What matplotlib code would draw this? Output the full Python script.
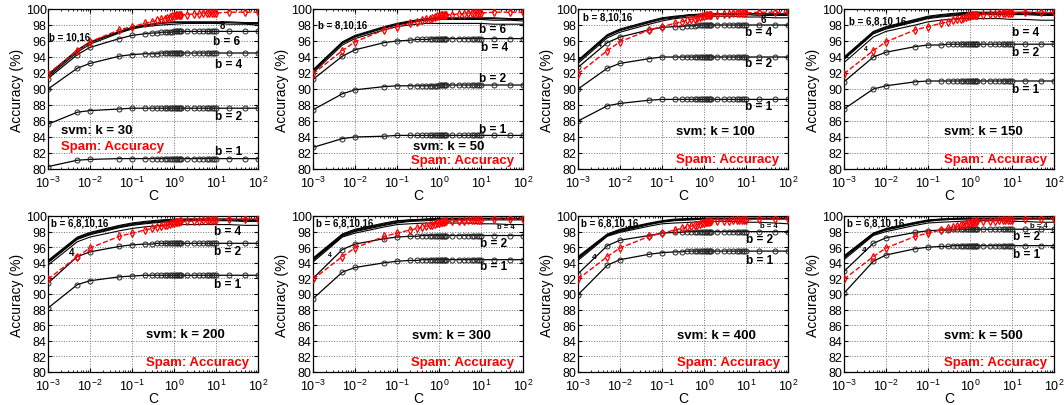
import matplotlib
matplotlib.use("Agg")
import matplotlib.pyplot as plt
from matplotlib.ticker import LogLocator, NullFormatter, MultipleLocator

plt.rcParams["font.family"] = ["Liberation Sans", "DejaVu Sans"]
plt.rcParams["mathtext.default"] = "regular"

# C values where the marked curves are sampled
c_full = [0.001, 0.005, 0.01, 0.05, 0.1,
          0.2, 0.3, 0.4, 0.5, 0.6, 0.7, 0.8, 0.9,
          1.0, 1.1, 1.2, 1.3, 1.4, 1.5,
          2, 3, 4, 5, 6, 7, 8, 9, 10,
          20, 50, 100]
# coarser C grid for the unmarked (high b) curves
c_plain = [0.001, 0.005, 0.01, 0.05, 0.1, 0.2, 0.5, 1, 2, 5, 10, 20, 50, 100]

spam_acc = [91.9, 94.8, 95.9, 97.4, 97.8,
            98.2, 98.4, 98.6, 98.7, 98.8, 98.9, 99.0, 99.1,
            99.1, 99.2, 99.2, 99.2, 99.3, 99.3,
            99.3, 99.4, 99.4, 99.5, 99.5, 99.5, 99.5, 99.5, 99.5,
            99.6, 99.6, 99.6]

# ---- k = 30
k30_b1 = [80.3, 81.1, 81.2, 81.3, 81.3,
          81.3, 81.3, 81.3, 81.3, 81.3, 81.3, 81.3, 81.3,
          81.3, 81.3, 81.3, 81.3, 81.3, 81.3,
          81.3, 81.3, 81.3, 81.3, 81.3, 81.3, 81.3, 81.3, 81.3,
          81.3, 81.3, 81.3]
k30_b2 = [85.6, 87.1, 87.3, 87.5, 87.6,
          87.6, 87.6, 87.6, 87.6, 87.6, 87.6, 87.6, 87.6,
          87.6, 87.6, 87.6, 87.6, 87.6, 87.6,
          87.6, 87.6, 87.6, 87.6, 87.6, 87.6, 87.6, 87.6, 87.6,
          87.6, 87.6, 87.6]
k30_b4 = [90.0, 92.6, 93.2, 94.1, 94.3,
          94.4, 94.4, 94.4, 94.5, 94.5, 94.5, 94.5, 94.5,
          94.5, 94.5, 94.5, 94.5, 94.5, 94.5,
          94.5, 94.5, 94.5, 94.5, 94.5, 94.5, 94.5, 94.5, 94.5,
          94.5, 94.5, 94.5]
k30_b6 = [91.3, 94.3, 95.2, 96.3, 96.7,
          96.9, 97.0, 97.0, 97.1, 97.1, 97.1, 97.1, 97.1,
          97.2, 97.2, 97.2, 97.2, 97.2, 97.2,
          97.2, 97.2, 97.2, 97.2, 97.2, 97.2, 97.2, 97.2, 97.2,
          97.2, 97.2, 97.2]
k30_b8 = [91.5, 94.6, 95.6, 97.0, 97.5, 97.8, 98.0, 98.1, 98.2, 98.2, 98.2, 98.1, 98.1, 98.0]
k30_b10 = [91.7, 94.8, 95.8, 97.1, 97.6, 97.9, 98.2, 98.3, 98.3, 98.3, 98.3, 98.3, 98.2, 98.2]
k30_b16 = [91.8, 94.9, 95.9, 97.2, 97.7, 98.0, 98.3, 98.4, 98.4, 98.4, 98.4, 98.4, 98.3, 98.3]

# ---- k = 50
k50_b1 = [82.7, 83.8, 84.0, 84.1, 84.2,
          84.2, 84.2, 84.2, 84.2, 84.2, 84.2, 84.2, 84.2,
          84.2, 84.2, 84.2, 84.2, 84.2, 84.2,
          84.2, 84.2, 84.2, 84.2, 84.2, 84.2, 84.2, 84.2, 84.2,
          84.2, 84.2, 84.2]
k50_b2 = [87.4, 89.4, 89.9, 90.3, 90.4,
          90.4, 90.4, 90.4, 90.4, 90.4, 90.4, 90.4, 90.4,
          90.5, 90.5, 90.5, 90.5, 90.5, 90.5,
          90.5, 90.5, 90.5, 90.5, 90.5, 90.5, 90.5, 90.5, 90.5,
          90.5, 90.5, 90.5]
k50_b4 = [91.2, 94.1, 94.9, 95.8, 96.0,
          96.1, 96.2, 96.2, 96.2, 96.2, 96.3, 96.3, 96.3,
          96.3, 96.3, 96.3, 96.3, 96.3, 96.3,
          96.3, 96.3, 96.3, 96.3, 96.3, 96.3, 96.3, 96.3, 96.3,
          96.3, 96.3, 96.3]
k50_b6 = [92.0, 95.5, 96.3, 97.4, 97.8, 98.0, 98.2, 98.2, 98.2, 98.2, 98.2, 98.1, 98.1, 98.1]
k50_b8 = [92.2, 95.7, 96.5, 97.6, 98.0, 98.3, 98.6, 98.7, 98.7, 98.7, 98.7, 98.6, 98.6, 98.5]
k50_b10 = [92.3, 95.8, 96.6, 97.7, 98.1, 98.4, 98.7, 98.8, 98.8, 98.8, 98.8, 98.8, 98.7, 98.7]
k50_b16 = [92.4, 95.9, 96.7, 97.8, 98.2, 98.5, 98.8, 98.9, 98.9, 98.9, 98.9, 98.9, 98.8, 98.8]

# ---- k = 100
k100_b1 = [86.0, 87.9, 88.2, 88.6, 88.7,
           88.7, 88.7, 88.7, 88.7, 88.7, 88.7, 88.7, 88.7,
           88.7, 88.7, 88.7, 88.7, 88.7, 88.7,
           88.7, 88.7, 88.7, 88.7, 88.7, 88.7, 88.7, 88.7, 88.7,
           88.7, 88.7, 88.7]
k100_b2 = [90.0, 92.6, 93.2, 93.8, 94.0,
           94.0, 94.0, 94.0, 94.0, 94.0, 94.0, 94.0, 94.0,
           94.0, 94.0, 94.0, 94.0, 94.0, 94.0,
           94.0, 94.0, 94.0, 94.0, 94.0, 94.0, 94.0, 94.0, 94.0,
           94.0, 94.0, 94.0]
k100_b4 = [92.7, 95.8, 96.5, 97.4, 97.7,
           97.8, 97.8, 97.9, 97.9, 97.9, 98.0, 98.0, 98.0,
           98.0, 98.0, 98.0, 98.0, 98.0, 98.0,
           98.0, 98.0, 98.0, 98.0, 98.0, 98.0, 98.0, 98.0, 98.0,
           98.0, 98.0, 98.0]
k100_b6 = [93.2, 96.4, 97.1, 98.1, 98.5, 98.8, 99.0, 99.1, 99.1, 99.1, 99.0, 99.0, 98.9, 98.9]
k100_b8 = [93.4, 96.6, 97.3, 98.3, 98.7, 98.9, 99.2, 99.2, 99.3, 99.3, 99.3, 99.2, 99.2, 99.2]
k100_b10 = [93.5, 96.7, 97.4, 98.4, 98.8, 99.0, 99.3, 99.3, 99.4, 99.4, 99.4, 99.4, 99.3, 99.3]
k100_b16 = [93.6, 96.8, 97.5, 98.5, 98.9, 99.1, 99.3, 99.4, 99.4, 99.4, 99.4, 99.4, 99.4, 99.4]

# ---- k = 150
k150_b1 = [87.5, 90.0, 90.4, 90.9, 91.0,
           91.0, 91.0, 91.0, 91.0, 91.0, 91.0, 91.0, 91.0,
           91.0, 91.0, 91.0, 91.0, 91.0, 91.0,
           91.0, 91.0, 91.0, 91.0, 91.0, 91.0, 91.0, 91.0, 91.0,
           91.0, 91.0, 91.0]
k150_b2 = [90.9, 94.0, 94.6, 95.3, 95.5,
           95.5, 95.6, 95.6, 95.6, 95.6, 95.6, 95.6, 95.6,
           95.6, 95.6, 95.6, 95.6, 95.6, 95.6,
           95.6, 95.6, 95.6, 95.6, 95.6, 95.6, 95.6, 95.6, 95.6,
           95.6, 95.6, 95.6]
k150_b4 = [93.3, 96.5, 97.2, 98.0, 98.4, 98.6, 98.8, 98.8, 98.8, 98.8, 98.7, 98.7, 98.6, 98.6]
k150_b6 = [93.7, 96.9, 97.5, 98.4, 98.8, 99.0, 99.2, 99.3, 99.3, 99.3, 99.3, 99.3, 99.2, 99.2]
k150_b8 = [93.8, 97.0, 97.6, 98.5, 98.9, 99.1, 99.3, 99.4, 99.4, 99.4, 99.4, 99.4, 99.3, 99.3]
k150_b10 = [93.9, 97.1, 97.7, 98.6, 99.0, 99.2, 99.4, 99.5, 99.5, 99.5, 99.5, 99.5, 99.4, 99.4]
k150_b16 = [94.0, 97.2, 97.8, 98.7, 99.1, 99.3, 99.5, 99.6, 99.6, 99.6, 99.6, 99.6, 99.5, 99.5]

# ---- k = 200
k200_b1 = [88.2, 91.2, 91.7, 92.2, 92.3,
           92.4, 92.4, 92.4, 92.4, 92.4, 92.4, 92.4, 92.4,
           92.4, 92.4, 92.4, 92.4, 92.4, 92.4,
           92.4, 92.4, 92.4, 92.4, 92.4, 92.4, 92.4, 92.4, 92.4,
           92.4, 92.4, 92.4]
k200_b2 = [91.4, 94.8, 95.4, 96.1, 96.3,
           96.4, 96.4, 96.5, 96.5, 96.5, 96.5, 96.5, 96.5,
           96.5, 96.5, 96.5, 96.5, 96.5, 96.5,
           96.5, 96.5, 96.5, 96.5, 96.5, 96.5, 96.5, 96.5, 96.5,
           96.5, 96.5, 96.5]
k200_b4 = [93.7, 96.7, 97.3, 98.1, 98.4, 98.6, 98.8, 98.9, 98.9, 98.9, 98.9, 98.9, 98.8, 98.8]
k200_b6 = [94.0, 97.0, 97.6, 98.5, 98.8, 99.0, 99.2, 99.3, 99.4, 99.4, 99.4, 99.4, 99.3, 99.3]
k200_b8 = [94.1, 97.1, 97.7, 98.6, 98.9, 99.1, 99.3, 99.4, 99.5, 99.5, 99.5, 99.5, 99.4, 99.4]
k200_b10 = [94.2, 97.2, 97.8, 98.7, 99.0, 99.2, 99.4, 99.5, 99.6, 99.6, 99.6, 99.6, 99.5, 99.5]
k200_b16 = [94.3, 97.3, 97.9, 98.8, 99.1, 99.3, 99.5, 99.6, 99.6, 99.6, 99.6, 99.6, 99.6, 99.6]

# ---- k = 300
k300_b1 = [89.4, 92.8, 93.4, 94.0, 94.2,
           94.3, 94.3, 94.4, 94.4, 94.4, 94.4, 94.4, 94.4,
           94.4, 94.4, 94.4, 94.4, 94.4, 94.4,
           94.4, 94.4, 94.4, 94.4, 94.4, 94.4, 94.4, 94.4, 94.4,
           94.4, 94.4, 94.4]
k300_b2 = [92.0, 95.7, 96.4, 97.1, 97.3,
           97.4, 97.4, 97.5, 97.5, 97.5, 97.5, 97.5, 97.5,
           97.5, 97.5, 97.5, 97.5, 97.5, 97.5,
           97.5, 97.5, 97.5, 97.5, 97.5, 97.5, 97.5, 97.5, 97.5,
           97.5, 97.5, 97.5]
k300_b4 = [94.1, 97.3, 97.8, 98.6, 98.9, 99.0, 99.1, 99.1, 99.1, 99.1, 99.0, 99.0, 98.9, 98.9]
k300_b6 = [94.3, 97.4, 98.0, 98.8, 99.1, 99.3, 99.4, 99.5, 99.5, 99.5, 99.5, 99.5, 99.5, 99.5]
k300_b8 = [94.4, 97.5, 98.1, 98.9, 99.2, 99.4, 99.5, 99.6, 99.6, 99.6, 99.6, 99.6, 99.6, 99.6]
k300_b10 = [94.5, 97.6, 98.2, 99.0, 99.3, 99.5, 99.6, 99.7, 99.7, 99.7, 99.7, 99.7, 99.7, 99.7]
k300_b16 = [94.6, 97.7, 98.3, 99.1, 99.4, 99.5, 99.6, 99.7, 99.7, 99.7, 99.7, 99.7, 99.7, 99.7]

# ---- k = 400
k400_b1 = [89.9, 93.7, 94.4, 95.1, 95.3,
           95.4, 95.4, 95.5, 95.5, 95.5, 95.5, 95.5, 95.5,
           95.5, 95.5, 95.5, 95.5, 95.5, 95.5,
           95.5, 95.5, 95.5, 95.5, 95.5, 95.5, 95.5, 95.5, 95.5,
           95.5, 95.5, 95.5]
k400_b2 = [92.6, 96.2, 96.9, 97.5, 97.8,
           97.9, 97.9, 98.0, 98.0, 98.0, 98.0, 98.0, 98.0,
           98.0, 98.0, 98.0, 98.0, 98.0, 98.0,
           98.0, 98.0, 98.0, 98.0, 98.0, 98.0, 98.0, 98.0, 98.0,
           98.0, 98.0, 98.0]
k400_b4 = [94.3, 97.4, 97.9, 98.7, 99.0, 99.1, 99.2, 99.3, 99.3, 99.3, 99.2, 99.2, 99.1, 99.0]
k400_b6 = [94.5, 97.5, 98.0, 98.9, 99.2, 99.4, 99.5, 99.6, 99.6, 99.6, 99.6, 99.6, 99.6, 99.6]
k400_b8 = [94.6, 97.6, 98.1, 99.0, 99.3, 99.5, 99.6, 99.7, 99.7, 99.7, 99.7, 99.7, 99.7, 99.7]
k400_b10 = [94.7, 97.6, 98.2, 99.0, 99.3, 99.5, 99.6, 99.7, 99.7, 99.7, 99.7, 99.7, 99.7, 99.7]
k400_b16 = [94.8, 97.7, 98.3, 99.1, 99.4, 99.6, 99.7, 99.7, 99.7, 99.7, 99.7, 99.7, 99.7, 99.7]

# ---- k = 500
k500_b1 = [90.1, 94.2, 95.0, 95.8, 96.0,
           96.1, 96.1, 96.2, 96.2, 96.2, 96.2, 96.2, 96.2,
           96.2, 96.2, 96.2, 96.2, 96.2, 96.2,
           96.2, 96.2, 96.2, 96.2, 96.2, 96.2, 96.2, 96.2, 96.2,
           96.2, 96.2, 96.2]
k500_b2 = [92.9, 96.5, 97.2, 97.9, 98.1,
           98.2, 98.2, 98.3, 98.3, 98.3, 98.3, 98.3, 98.3,
           98.3, 98.3, 98.3, 98.3, 98.3, 98.3,
           98.3, 98.3, 98.3, 98.3, 98.3, 98.3, 98.3, 98.3, 98.3,
           98.3, 98.3, 98.3]
k500_b4 = [94.4, 97.5, 98.0, 98.8, 99.1, 99.2, 99.3, 99.4, 99.4, 99.4, 99.3, 99.3, 99.2, 99.2]
k500_b6 = [94.6, 97.6, 98.2, 99.0, 99.3, 99.5, 99.6, 99.6, 99.6, 99.6, 99.6, 99.6, 99.6, 99.6]
k500_b8 = [94.7, 97.7, 98.3, 99.1, 99.4, 99.5, 99.6, 99.7, 99.7, 99.7, 99.7, 99.7, 99.7, 99.7]
k500_b10 = [94.8, 97.8, 98.3, 99.1, 99.4, 99.6, 99.7, 99.7, 99.7, 99.7, 99.7, 99.7, 99.7, 99.7]
k500_b16 = [94.9, 97.8, 98.4, 99.2, 99.5, 99.6, 99.7, 99.7, 99.7, 99.7, 99.7, 99.7, 99.7, 99.7]

k_values = [30, 50, 100, 150, 200, 300, 400, 500]

# label text entries: (text, x, y, fontsize)
panels = [
    dict(marked=[k30_b1, k30_b2, k30_b4, k30_b6], plain=[k30_b8, k30_b10, k30_b16],
         labels=[("b = 10,16", 1.05e-3, 96.5, 7), ("b = 6", 8.5, 96.0, 8.5),
                 ("b = 4", 9.5, 93.1, 8.5), ("b = 2", 9.5, 86.6, 8.5),
                 ("b = 1", 9.5, 82.3, 8.5), ("8", 12, 98.0, 7)],
         svm=(2e-3, 84.9), spam=(2e-3, 82.9)),
    dict(marked=[k50_b1, k50_b2, k50_b4], plain=[k50_b6, k50_b8, k50_b10, k50_b16],
         labels=[("b = 8,10,16", 1.3e-3, 98.1, 7), ("b = 6", 9.0, 97.5, 8.5),
                 ("b = 4", 10, 95.2, 8.5), ("b = 2", 9.0, 91.4, 8.5),
                 ("b = 1", 9.0, 85.0, 8.5)],
         svm=(0.24, 82.9), spam=(0.21, 81.1)),
    dict(marked=[k100_b1, k100_b2, k100_b4], plain=[k100_b6, k100_b8, k100_b10, k100_b16],
         labels=[("b = 8,10,16", 1.3e-3, 99.0, 7), ("6", 22, 98.7, 7),
                 ("b = 4", 9.5, 97.1, 8.5), ("b = 2", 9.5, 93.2, 8.5),
                 ("b = 1", 9.5, 87.9, 8.5), ("4", 3e-3, 95.6, 5)],
         svm=(0.22, 84.8), spam=(0.22, 81.25)),
    dict(marked=[k150_b1, k150_b2], plain=[k150_b4, k150_b6, k150_b8, k150_b10, k150_b16],
         labels=[("b = 6,8,10,16", 1.3e-3, 98.5, 7), ("b = 4", 10, 97.1, 8.5),
                 ("b = 2", 10, 94.6, 8.5), ("b = 1", 10, 90.0, 8.5),
                 ("4", 3e-3, 95.1, 5)],
         svm=(0.24, 84.7), spam=(0.24, 81.25)),
    dict(marked=[k200_b1, k200_b2], plain=[k200_b4, k200_b6, k200_b8, k200_b10, k200_b16],
         labels=[("b = 6,8,10,16", 1.15e-3, 99.2, 7), ("b = 4", 9.0, 98.1, 8.5),
                 ("b = 2", 9.0, 95.5, 8.5), ("b = 1", 9.0, 91.3, 8.5),
                 ("4", 3.2e-3, 95.4, 7)],
         svm=(0.22, 84.9), spam=(0.22, 81.3)),
    dict(marked=[k300_b1, k300_b2], plain=[k300_b4, k300_b6, k300_b8, k300_b10, k300_b16],
         labels=[("b = 6,8,10,16", 1.15e-3, 99.2, 7), ("b = 4", 24, 98.6, 5.5),
                 ("b = 2", 9.5, 96.5, 8.5), ("b = 1", 9.5, 93.6, 8.5),
                 ("4", 2.3e-3, 95.0, 5)],
         svm=(0.23, 84.7), spam=(0.22, 81.3)),
    dict(marked=[k400_b1, k400_b2], plain=[k400_b4, k400_b6, k400_b8, k400_b10, k400_b16],
         labels=[("b = 6,8,10,16", 1.15e-3, 99.2, 7), ("b = 4", 22, 98.8, 5.5),
                 ("b = 2", 10, 97.0, 8.5), ("b = 1", 10, 94.3, 8.5),
                 ("4", 2.1e-3, 94.8, 6)],
         svm=(0.23, 84.7), spam=(0.23, 81.3)),
    dict(marked=[k500_b1, k500_b2], plain=[k500_b4, k500_b6, k500_b8, k500_b10, k500_b16],
         labels=[("b = 6,8,10,16", 1.15e-3, 99.2, 7), ("b = 4", 27, 98.8, 5.5),
                 ("b = 2", 10.5, 97.4, 8.5), ("b = 1", 10.5, 95.1, 8.5),
                 ("4", 2.6e-3, 95.7, 6)],
         svm=(0.24, 84.7), spam=(0.24, 81.3)),
]

W, H = 1064, 406
fig = plt.figure(figsize=(W / 100, H / 100), dpi=100)

col_left = [48, 313, 578, 844]
row_top = [10, 217]
row_h = [160, 156]
ax_w = 210

for i, (k, p) in enumerate(zip(k_values, panels)):
    r, c = divmod(i, 4)
    ax = fig.add_axes([col_left[c] / W, 1 - (row_top[r] + row_h[r]) / H,
                       ax_w / W, row_h[r] / H])

    for y in p["plain"]:
        ax.plot(c_plain, y, color="k", lw=0.8, zorder=2)
    for y in p["marked"]:
        ax.plot(c_full, y, color="k", lw=0.9, marker="o", ms=3.6,
                mfc="none", mec="0.15", mew=0.7, zorder=3)
    ax.plot(c_full, spam_acc, color="r", lw=1.0, ls="--", marker="d", ms=4.2,
            mfc="none", mec="r", mew=0.9, zorder=4)

    for txt, x, y, fs in p["labels"]:
        ax.text(x, y, txt, fontsize=fs, fontweight="bold", ha="left", va="center",
                color="k", zorder=5)
    ax.text(*p["svm"], f"svm: k = {k}", fontsize=9.5, fontweight="bold",
            ha="left", va="center", color="k")
    ax.text(*p["spam"], "Spam: Accuracy", fontsize=9.5, fontweight="bold",
            ha="left", va="center", color="r")

    ax.set_xscale("log")
    ax.set_xlim(1e-3, 1e2)
    ax.set_ylim(80, 100)
    ax.yaxis.set_major_locator(MultipleLocator(2))
    ax.xaxis.set_major_locator(LogLocator(base=10, numticks=10))
    ax.xaxis.set_minor_locator(LogLocator(base=10, subs=range(2, 10), numticks=20))
    ax.xaxis.set_minor_formatter(NullFormatter())
    ax.grid(True, which="major", ls=":", color="0.45", lw=0.7)
    ax.tick_params(which="both", direction="in", top=True, right=True,
                   labelsize=9)
    ax.tick_params(axis="y", pad=1)
    ax.tick_params(axis="x", pad=4)
    ax.tick_params(which="major", length=3)
    ax.tick_params(which="minor", length=1.5)
    for s in ax.spines.values():
        s.set_linewidth(0.9)
    ax.set_xlabel("C", fontsize=10, labelpad=-1)
    ax.set_ylabel("Accuracy (%)", fontsize=10, labelpad=1)

fig.savefig("out.png", dpi=100)
